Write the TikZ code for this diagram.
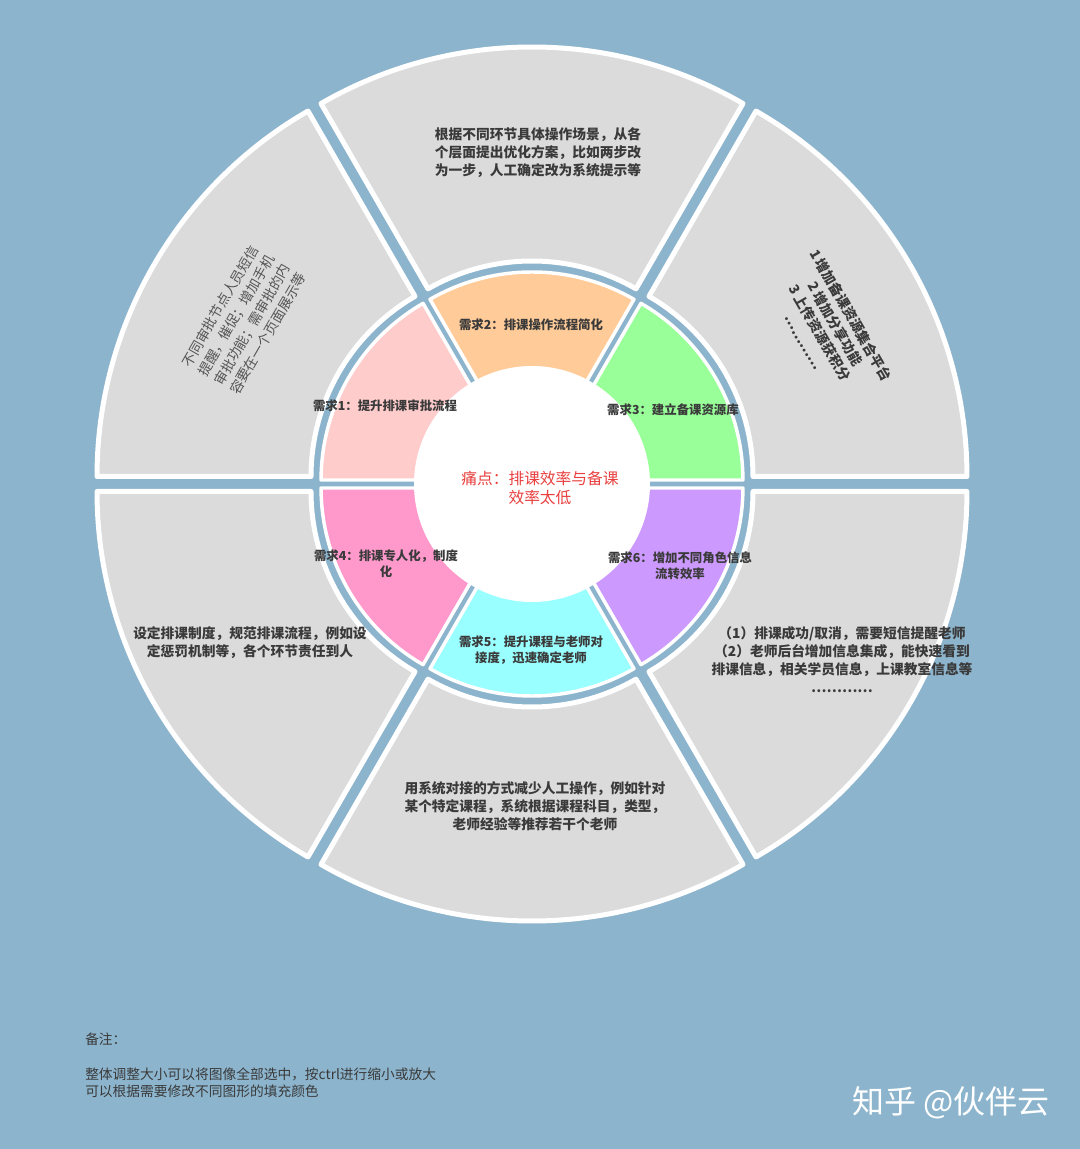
\documentclass[tikz,border=0pt]{standalone}
\usepackage{fontspec}
\setmainfont{Noto Sans CJK SC}

\definecolor{bgblue}{RGB}{140,180,205}
\definecolor{seggray}{RGB}{219,219,219}
\definecolor{txtgray}{RGB}{58,58,58}
\definecolor{sidegray}{RGB}{85,85,85}
\definecolor{painred}{RGB}{232,64,62}
\definecolor{needpink}{RGB}{255,204,204}
\definecolor{needorange}{RGB}{255,204,153}
\definecolor{needgreen}{RGB}{153,255,153}
\definecolor{needpurple}{RGB}{204,153,255}
\definecolor{needcyan}{RGB}{153,255,255}
\definecolor{needrose}{RGB}{255,153,204}

\begin{document}
\begin{tikzpicture}[x=0.75pt, y=0.75pt,
  outerseg/.style={fill=seggray, draw=white, line width=3.75pt, line join=round},
  innerseg/.style={draw=white, line width=2.6pt, line join=round},
  segtext/.style={font=\fontsize{10.3pt}{13.5pt}\selectfont\bfseries, text=txtgray, align=center},
  sidetext/.style={font=\fontsize{10.3pt}{13.8pt}\selectfont, text=sidegray, align=center},
  needtext/.style={font=\fontsize{9.3pt}{12pt}\selectfont\bfseries, text=txtgray, align=center}]

  % Background
  \fill[bgblue] (-532,-665) rectangle (548,484);
  \useasboundingbox (-532,-665) rectangle (548,484);

  % Outer ring (exploded sectors)
  \foreach \a in {0,60,...,300}{
    \pgfmathsetmacro\m{\a+30}
    \pgfmathsetmacro\b{\a+60}
    \draw[outerseg, shift={(\m:15)}] (\a:208) -- (\a:422)
      arc[start angle=\a, end angle=\b, radius=422] -- (\b:208)
      arc[start angle=\b, end angle=\a, radius=208] -- cycle;
  }

  % Inner ring of needs
  \foreach \a/\c in {0/needgreen,60/needorange,120/needpink,180/needrose,240/needcyan,300/needpurple}{
    \pgfmathsetmacro\m{\a+30}
    \pgfmathsetmacro\b{\a+60}
    \draw[innerseg, fill=\c, shift={(\m:8)}] (\a:90) -- (\a:204)
      arc[start angle=\a, end angle=\b, radius=204] -- (\b:90)
      arc[start angle=\b, end angle=\a, radius=90] -- cycle;
  }

  % White centre
  \fill[white] (0,0) circle[radius=118];
  \node (pain) [font=\fontsize{11.8pt}{14.5pt}\selectfont, text=painred, align=center] at (8,-4)
    {痛点：排课效率与备课\\效率太低};

  % Needs
  \node (need1) [needtext] at (-147,78) {需求1：提升排课审批流程};
  \node (need2) [needtext] at (-1,159) {需求2：排课操作流程简化};
  \node (need3) [needtext] at (141,74) {需求3：建立备课资源库};
  \node (need4) [needtext] at (-146,-80) {需求4：排课专人化，制度\\化};
  \node (need5) [needtext] at (-1,-166) {需求5：提升课程与老师对\\接度，迅速确定老师};
  \node (need6) [needtext] at (148,-82) {需求6：增加不同角色信息\\流转效率};

  % Outer texts
  \node (approve) [sidetext, rotate=60] at (-288,164)
    {不同审批节点人员短信\\提醒，催促；增加手机\\审批功能；需审批的内\\容要在一个页面展示等};
  \node (simplify) [segtext] at (6,331)
    {根据不同环节具体操作场景，从各\\个层面提出优化方案，比如两步改\\为一步，人工确定改为系统提示等};
  \node (resource) [segtext, rotate=-60] at (296,156)
    {1\ 增加备课资源集合平台\\2\ 增加分享功能\\3\ 上传资源获积分\\…………};
  \node (rules) [segtext] at (-282,-159)
    {设定排课制度，规范排课流程，例如设\\定惩罚机制等，各个环节责任到人};
  \node (flow) [segtext] at (310,-176)
    {（1）排课成功/取消，需要短信提醒老师\\（2）老师后台增加信息集成，能快速看到\\排课信息，相关学员信息，上课教室信息等\\…………};
  \node (match) [segtext] at (3,-322)
    {用系统对接的方式减少人工操作，例如针对\\某个特定课程，系统根据课程科目，类型，\\老师经验等推荐若干个老师};

  % Notes and mark
  \node (note) [font=\fontsize{10.3pt}{12.75pt}\selectfont, text=txtgray, align=left, anchor=north west, inner sep=0pt]
    at (-447,-549) {备注：\\[13.5pt]整体调整大小可以将图像全部选中，按ctrl进行缩小或放大\\可以根据需要修改不同图形的填充颜色};
  \node (mark) [font=\fontsize{24pt}{26pt}\selectfont, text=white] at (419,-619) {知乎 @伙伴云};

\end{tikzpicture}
\end{document}
